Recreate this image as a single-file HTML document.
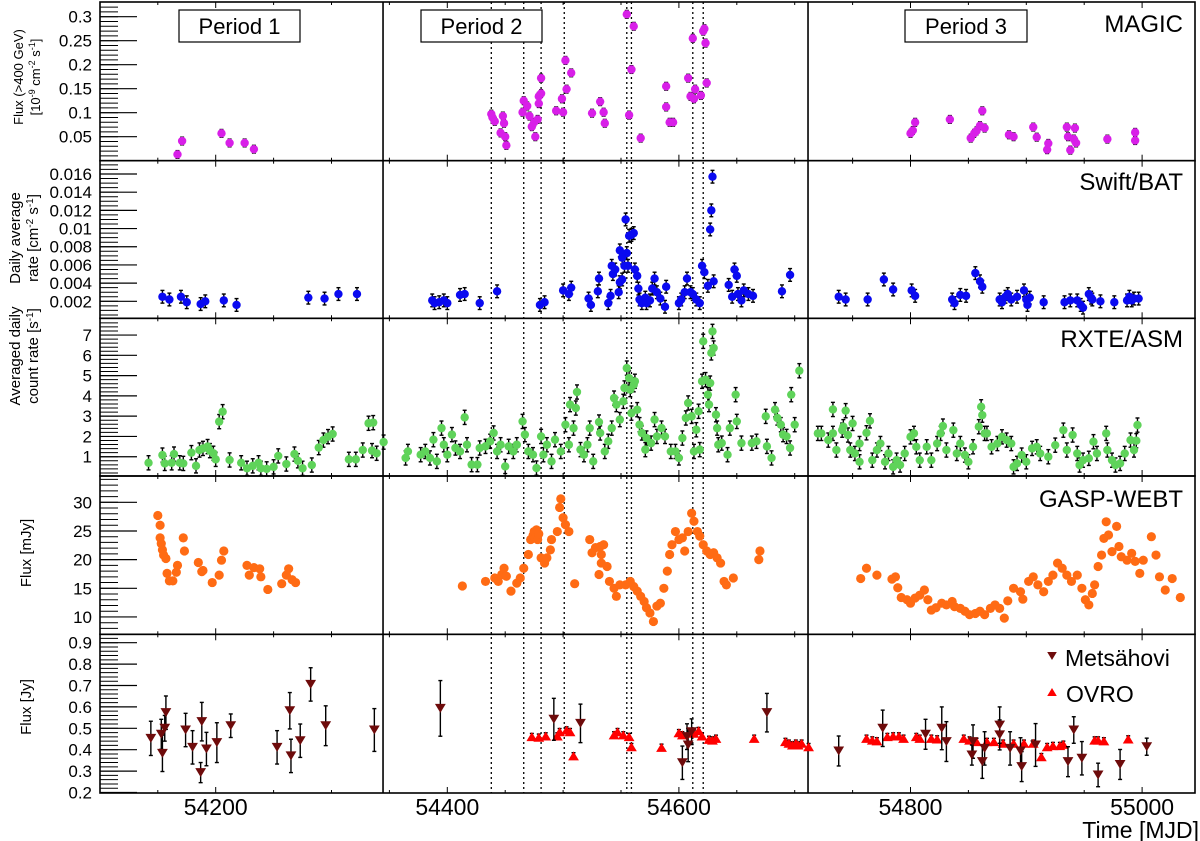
<!DOCTYPE html>
<html><head><meta charset="utf-8"><style>
html,body{margin:0;padding:0;background:#fff}
svg{display:block;font-family:"Liberation Sans",sans-serif}
</style></head><body>
<svg id="c" width="1200" height="841" viewBox="0 0 1200 841"></svg>
<script>
// ===== DATA =====
const magicMjd=[54167,54171,54205,54212,54225,54233,54438,54439,54441,54446,54448,54449,54450,54451,54465,54466,54469,54471,54473,54475,54476,54478,54479,54479,54481,54481,54494,54499,54500,54502,54503,54507,54525,54532,54535,54536,54555,54557,54559,54561,54567,54589,54589,54592,54595,54608,54610,54612,54613,54614,54619,54621,54622,54623,54624,54800,54802,54804,54834,54852,54855,54857,54860,54862,54864,54885,54889,54906,54909,54918,54919,54935,54936,54938,54941,54942,54943,54970,54994,54994];
const magicFlux=[0.013,0.041,0.057,0.037,0.037,0.024,0.097,0.09,0.082,0.058,0.093,0.078,0.05,0.032,0.101,0.125,0.114,0.093,0.071,0.08,0.05,0.086,0.119,0.134,0.14,0.172,0.104,0.129,0.101,0.209,0.149,0.183,0.099,0.123,0.101,0.078,0.305,0.095,0.19,0.28,0.047,0.155,0.112,0.08,0.08,0.172,0.134,0.255,0.129,0.149,0.136,0.27,0.275,0.245,0.162,0.057,0.063,0.08,0.086,0.047,0.057,0.062,0.073,0.104,0.068,0.054,0.05,0.07,0.049,0.023,0.036,0.07,0.05,0.022,0.045,0.068,0.037,0.045,0.059,0.042];
const magicErr=0.008;

const batMjd=[54154,54160,54170,54175,54187,54191,54207,54218,54280,54294,54306,54322,54387,54389,54393,54397,54400,54411,54415,54428,54443,54480,54484,54500,54505,54507,54522,54524,54530,54531,54539,54541,54542,54543,54545,54548,54549,54549,54551,54551,54553,54554,54555,54556,54557,54559,54561,54562,54564,54565,54566,54568,54571,54572,54575,54577,54579,54581,54584,54588,54589,54600,54602,54605,54607,54610,54612,54615,54618,54620,54622,54625,54627,54628,54629,54630,54643,54646,54648,54650,54651,54654,54656,54660,54664,54689,54696,54738,54744,54763,54777,54785,54801,54804,54836,54838,54843,54848,54856,54860,54862,54877,54879,54882,54884,54887,54892,54898,54900,54901,54903,54915,54933,54938,54944,54947,54949,54954,54956,54957,54964,54976,54987,54989,54991,54993,54997];
const batRate=[0.0025,0.0022,0.0025,0.0019,0.0017,0.002,0.0021,0.0016,0.0024,0.0023,0.0028,0.0028,0.0021,0.0018,0.0019,0.0021,0.0018,0.0027,0.0028,0.0018,0.0031,0.0016,0.0019,0.0032,0.0028,0.0035,0.0023,0.0016,0.0031,0.0045,0.0018,0.0026,0.0059,0.005,0.0055,0.003,0.0076,0.0041,0.0068,0.0044,0.0059,0.011,0.0073,0.0059,0.0092,0.0093,0.0095,0.0055,0.0048,0.0034,0.0022,0.0018,0.0024,0.0018,0.0021,0.0034,0.0045,0.003,0.0023,0.0014,0.0036,0.0018,0.0022,0.003,0.0045,0.003,0.0028,0.0022,0.0018,0.0059,0.0052,0.0037,0.0099,0.012,0.0157,0.0042,0.0038,0.0025,0.0055,0.0048,0.0028,0.0021,0.0032,0.0028,0.0026,0.0031,0.0049,0.0025,0.0022,0.0022,0.0044,0.0033,0.0032,0.0026,0.0022,0.0018,0.0027,0.0026,0.0051,0.0042,0.0036,0.0022,0.0019,0.0025,0.0028,0.0022,0.0025,0.0032,0.0022,0.0016,0.0024,0.0019,0.0019,0.0021,0.0021,0.0016,0.0013,0.0028,0.0024,0.0022,0.002,0.0019,0.0021,0.0025,0.0021,0.0023,0.0023];
const batErr=0.0007;

const asmMjd=[54142,54154,54156,54162,54164,54169,54172,54179,54183,54186,54189,54193,54195,54198,54200,54203,54206,54212,54222,54227,54232,54237,54239,54244,54250,54254,54261,54268,54271,54275,54283,54289,54293,54297,54301,54315,54321,54327,54332,54335,54336,54339,
54345,54364,54366,54377,54381,54385,54388,54391,54395,54397,54400,54404,54407,54411,54415,54417,54421,54426,54428,54433,54437,54440,54443,54446,54450,54453,54457,54460,54465,54467,54470,54474,54477,54481,54483,54486,54490,54493,54498,54502,54505,54506,54509,54512,54511,54515,54518,54521,54523,54526,54531,54532,54536,54539,54542,54544,54546,54549,54552,54553,54555,54557,54558,54559,54561,54562,54564,54566,54568,54571,54572,54576,54579,54581,54585,54588,54593,54597,54600,54603,54606,54608,54611,54613,54615,54617,54618,54620,54621,54623,54625,54626,54627,54628,54629,54630,54632,54633,54634,54637,54642,54644,54649,54650,54654,54663,54667,54675,54676,54680,54683,54685,54688,54690,54693,54696,54697,54700,54704,
54720,54723,54729,54733,54733,54736,54741,54744,54742,54746,54750,54748,54752,54756,54756,54762,54765,54767,54771,54774,54778,54781,54785,54788,54791,54795,54800,54803,54805,54808,54814,54818,54823,54826,54828,54831,54837,54840,54843,54847,54850,54854,54859,54861,54862,54864,54866,54870,54875,54879,54883,54887,54889,54892,54896,54900,54905,54909,54912,54919,54925,54932,54935,54940,54944,54946,54949,54954,54958,54961,54969,54970,54974,54977,54981,54985,54990,54993,54995,54996];
const asmRate=[0.7,1.08,0.67,0.7,1.13,0.7,0.67,1.2,0.55,1.33,1.41,1.5,1.3,1.17,0.87,2.73,3.22,0.84,0.7,0.43,0.55,0.7,0.43,0.4,0.5,1.04,0.64,1.13,0.8,0.43,0.59,1.45,1.82,1.99,2.12,0.87,0.87,1.33,2.65,1.3,2.68,1.17,
1.72,0.94,1.26,1.1,1.26,0.94,1.84,0.77,2.41,1.59,1.1,2.09,1.43,1.26,2.94,1.59,0.61,0.61,1.43,1.51,1.76,2.17,1.26,1.59,0.52,1.51,1.26,1.59,2.74,2.09,1.26,1.1,0.44,2.0,1.1,1.59,0.77,1.84,1.26,2.58,1.59,3.57,2.41,4.19,3.4,1.35,1.1,1.59,2.41,0.77,2.71,2.17,1.26,1.76,2.41,3.89,3.57,2.83,3.73,4.39,5.37,4.88,4.31,3.15,4.55,4.72,3.32,2.58,2.17,1.35,1.92,1.67,2.83,2.0,2.41,2.0,1.26,1.26,0.94,1.92,2.91,3.65,2.99,1.26,2.33,3.24,1.35,4.72,6.69,4.8,4.06,3.57,4.63,6.12,7.18,6.36,3.07,2.41,1.59,1.67,1.1,2.41,4.06,2.74,1.67,1.67,1.76,2.99,1.51,0.94,3.32,2.91,2.58,2.09,2.0,1.43,4.06,2.58,5.24,
2.15,2.15,1.82,3.33,2.15,1.33,2.31,3.27,2.48,2.07,2.64,1.33,1.16,0.75,1.65,2.18,2.77,0.83,1.33,1.65,0.75,1.16,0.5,0.83,0.59,1.16,1.98,2.15,1.49,0.83,1.49,0.83,1.65,2.15,2.51,1.33,2.31,1.16,1.65,1.08,0.75,1.49,2.48,3.46,3.05,2.15,2.15,1.49,1.65,1.98,1.82,1.65,0.5,0.67,1.08,0.75,1.41,1.49,1.16,1.0,1.57,2.31,1.33,2.07,1.16,0.59,0.83,0.92,1.74,1.16,2.15,1.33,0.83,0.59,0.67,1.16,1.82,1.33,1.79,2.56];
const asmErr=0.35;

const gaspMjd=[54150,54152,54152,54153,54154,54155,54157,54158,54160,54163,54166,54167,54172,54173,54185,54188,54189,54197,54203,54205,54207,54227,54229,54233,54238,54239,54245,54257,54261,54263,54266,54269,
54413,54433,54441,54444,54447,54449,54451,54455,54460,54463,54466,54470,54472,54474,54475,54476,54477,54478,54479,54481,54484,54486,54489,54490,54495,54497,54498,54500,54502,54505,54510,54523,54525,54528,54532,54533,54535,54533,54531,54538,54540,54544,54546,54549,54554,54558,54561,54564,54567,54570,54572,54575,54578,54581,54584,54587,54590,54592,54594,54597,54600,54603,54605,54608,54611,54613,54616,54618,54621,54624,54627,54630,54633,54636,54639,54641,54647,54669,54670,
54757,54762,54771,54784,54787,54789,54792,54797,54800,54804,54808,54812,54815,54818,54822,54827,54831,54836,54838,54843,54847,54851,54856,54860,54864,54869,54873,54877,54881,54884,54889,54895,54897,54902,54906,54910,54915,54919,54923,54927,54931,54935,54939,54944,54948,54951,54954,54957,54959,54962,54965,54967,54969,54971,54974,54978,54980,54982,54987,54991,54994,54998,55001,55008,55012,55015,55020,55026,55033];
const gaspFlux=[27.7,26.0,23.8,22.8,21.7,20.8,20.2,17.6,16.3,16.3,17.8,19.0,23.8,21.5,19.5,17.9,18.1,16.0,17.3,19.9,21.5,19.0,17.3,18.6,18.4,17.0,14.8,15.8,17.3,18.4,16.5,16.0,
15.4,16.2,16.8,16.2,17.4,18.5,17.1,14.5,15.9,16.8,18.5,20.9,23.5,24.2,24.9,23.8,25.2,23.5,24.5,20.3,19.4,20.3,21.7,23.5,24.9,29.1,30.6,27.3,26.1,24.9,15.8,23.5,21.2,22.1,22.3,20.9,22.6,19.4,17.4,18.8,16.2,15.0,13.6,15.6,15.6,16.2,15.3,14.5,13.6,12.7,11.6,10.7,9.2,11.9,12.4,15.0,18.0,20.9,22.6,24.9,23.5,23.8,21.5,24.9,28.1,26.7,24.9,24.1,22.6,21.5,20.9,21.2,20.3,19.4,16.2,15.6,16.8,20.0,21.5,
16.7,18.5,17.3,16.6,17.0,15.1,13.4,13.0,12.4,13.3,13.8,14.7,13.0,11.2,11.6,12.4,12.1,12.7,11.8,11.5,11.0,10.4,10.6,11.0,10.4,11.5,12.1,11.5,9.8,12.8,15.0,14.4,13.1,16.2,17.0,15.6,14.4,16.2,17.3,19.4,18.5,17.3,16.2,17.3,15.0,13.0,12.1,14.1,15.6,18.8,20.8,23.7,26.6,24.3,21.4,25.8,22.3,20.5,19.9,21.1,19.7,17.6,19.9,24.0,20.8,17.0,14.7,16.7,13.4];

const metsMjd=[54144,54153,54154,54156,54157,54174,54180,54188,54187,54192,54201,54213,54253,54264,54265,54273,54282,54295,54337,54394,54492,54515,54603,54607,54608,54611,54676,54738,54776,54813,54827,54831,54854,54853,54862,54864,54877,54877,54886,54895,54896,54908,54936,54941,54948,54962,54981,55004];
const metsFlux=[0.453,0.472,0.383,0.50,0.573,0.492,0.411,0.531,0.293,0.403,0.433,0.512,0.411,0.582,0.371,0.442,0.705,0.512,0.492,0.593,0.542,0.523,0.339,0.461,0.422,0.484,0.573,0.394,0.50,0.472,0.50,0.438,0.438,0.375,0.344,0.406,0.515,0.469,0.406,0.394,0.321,0.422,0.344,0.492,0.36,0.282,0.331,0.414];
const metsErr=[0.08,0.07,0.085,0.06,0.078,0.078,0.078,0.09,0.047,0.078,0.093,0.055,0.078,0.085,0.078,0.078,0.078,0.093,0.1,0.13,0.098,0.09,0.078,0.06,0.078,0.06,0.09,0.07,0.085,0.07,0.1,0.093,0.078,0.047,0.078,0.078,0.085,0.07,0.078,0.062,0.07,0.1,0.07,0.062,0.078,0.055,0.07,0.04];

const ovroMjd=[54473,54479,54485,54495,54497,54503,54506,54509,54544,54547,54552,54557,54559,54585,54600,54603,54613,54617,54620,54626,54629,54632,54665,54692,54695,54698,54701,54703,54706,54712,54762,54767,54771,54780,54785,54790,54794,54805,54808,54818,54823,54846,54851,54857,54866,54872,54880,54889,54898,54906,54913,54918,54923,54929,54932,54959,54962,54967,54988];
const ovroFlux=[0.461,0.458,0.464,0.464,0.484,0.492,0.484,0.371,0.469,0.484,0.469,0.461,0.414,0.411,0.479,0.469,0.477,0.489,0.464,0.448,0.445,0.453,0.453,0.438,0.43,0.422,0.43,0.422,0.43,0.414,0.453,0.445,0.441,0.461,0.464,0.464,0.453,0.461,0.453,0.453,0.450,0.453,0.445,0.438,0.438,0.438,0.430,0.430,0.430,0.430,0.367,0.414,0.419,0.419,0.425,0.445,0.445,0.441,0.450];
const ovroErr=0.015;

const dottedMjd=[54438,54466,54481,54501,54555,54559,54612,54621];
const periodSepMjd=[54344.5,54711.5];
const xTicks=[54200,54400,54600,54800,55000];

// ===== LAYOUT =====
const NS="http://www.w3.org/2000/svg";
const svg=document.getElementById('c');
const X0=100,X1=1195,TOP=2,BOT=793;
const xs=m=>215.7+(m-54200)*1.158;
function el(tag,attrs,parent){const e=document.createElementNS(NS,tag);for(const k in attrs)e.setAttribute(k,attrs[k]);(parent||svg).appendChild(e);return e;}

const panels=[
 {key:'magic',top:TOP,bot:160.7,y:v=>160.7-v*480,ticks:[0.05,0.1,0.15,0.2,0.25,0.3],minor:0.01,vmin:0,vmax:0.33,fmt:v=>String(+v.toFixed(2))},
 {key:'bat',top:160.7,bot:318.3,y:v=>319.5-v*9095,ticks:[0.002,0.004,0.006,0.008,0.01,0.012,0.014,0.016],minor:0.0005,vmin:0,vmax:0.0174,fmt:v=>String(+v.toFixed(3))},
 {key:'asm',top:318.3,bot:476,y:v=>477-v*20.28,ticks:[1,2,3,4,5,6,7],minor:0.2,vmin:0,vmax:7.8,fmt:v=>String(v)},
 {key:'gasp',top:476,bot:634.3,y:v=>502.3-(v-30)*5.733,ticks:[10,15,20,25,30],minor:1,vmin:7,vmax:34,fmt:v=>String(v)},
 {key:'radio',top:634.3,bot:BOT,y:v=>642.7-(v-0.9)*214,ticks:[0.2,0.3,0.4,0.5,0.6,0.7,0.8,0.9],minor:0.02,vmin:0.2,vmax:0.94,fmt:v=>v.toFixed(1)}
];

const gDot=el('g',{});

dottedMjd.forEach(m=>{const l=el('line',{x1:xs(m),x2:xs(m),y1:TOP,y2:BOT,stroke:'#000','stroke-width':1.3,'stroke-dasharray':'2,3'},gDot);
});

panels.forEach(p=>{
 const g=el('g',{});
 
 el('rect',{x:X0,y:p.top,width:X1-X0,height:p.bot-p.top,fill:'none',stroke:'#000','stroke-width':1.6},g);
 for(let v=Math.ceil(p.vmin/p.minor)*p.minor;v<=p.vmax+1e-9;v+=p.minor){const y=p.y(v);if(y<p.top+1||y>p.bot-1)continue;el('line',{x1:X0,x2:X0+18,y1:y,y2:y,stroke:'#000','stroke-width':1},g);}
 p.ticks.forEach(v=>{const y=p.y(v);el('line',{x1:X0,x2:X0+37,y1:y,y2:y,stroke:'#000','stroke-width':1.2},g);
  const t=el('text',{x:92,y:y+6,'text-anchor':'end','font-size':17,fill:'#000'},g);t.textContent=p.fmt(v);
  });
 for(let m=54150;m<=55050;m+=50){const x=xs(m);if(x<X0||x>X1)continue;const L=(m%200===0)?6:3;
  el('line',{x1:x,x2:x,y1:p.bot,y2:p.bot-L,stroke:'#000','stroke-width':1},g);
  el('line',{x1:x,x2:x,y1:p.top,y2:p.top+L,stroke:'#000','stroke-width':1},g);}
});

periodSepMjd.forEach(m=>{const l=el('line',{x1:xs(m),x2:xs(m),y1:TOP,y2:BOT,stroke:'#000','stroke-width':1.6});
});

[['Period 1',179,300],['Period 2',421,542],['Period 3',905,1027]].forEach((b,i)=>{
 const g=el('g',{});
 el('rect',{x:b[1],y:10,width:b[2]-b[1],height:32,fill:'#fff',stroke:'#000','stroke-width':1.2},g);
 const t=el('text',{x:(b[1]+b[2])/2,y:34,'text-anchor':'middle','font-size':22},g);t.textContent=b[0];});

[['MAGIC',32,'magic-label'],['Swift/BAT',190,'swift-bat-label'],['RXTE/ASM',347,'rxte-asm-label'],['GASP-WEBT',507,'gasp-webt-label']].forEach(a=>{
 const t=el('text',{x:1183,y:a[1],'text-anchor':'end','font-size':24});t.textContent=a[0];
 });

function ytitle(lines,cy,xs0,fs,name){const g=el('g',{});
 lines.forEach((ln,i)=>{const x=xs0[i];const t=el('text',{x:x,y:cy,'text-anchor':'middle','font-size':fs,transform:`rotate(-90 ${x} ${cy})`},g);t.innerHTML=ln;});}
ytitle(['Flux (&gt;400 GeV)','[10<tspan dy="-5" font-size="9">-9</tspan><tspan dy="5"> cm</tspan><tspan dy="-5" font-size="9">-2</tspan><tspan dy="5"> s</tspan><tspan dy="-5" font-size="9">-1</tspan><tspan dy="5">]</tspan>'],77,[23,40],13,'magic-y-title');
ytitle(['Daily average','rate [cm<tspan dy="-5" font-size="10">-2</tspan><tspan dy="5"> s</tspan><tspan dy="-5" font-size="10">-1</tspan><tspan dy="5">]</tspan>'],238,[20,38],15,'bat-y-title');
ytitle(['Averaged daily','count rate [s<tspan dy="-5" font-size="10">-1</tspan><tspan dy="5">]</tspan>'],356,[20,38],15,'asm-y-title');
ytitle(['Flux [mJy]'],553,[31],15,'gasp-y-title');
ytitle(['Flux [Jy]'],707,[31],15,'radio-y-title');

xTicks.forEach(m=>{const t=el('text',{x:xs(m),y:815,'text-anchor':'middle','font-size':23});t.textContent=m;
 });
const xt=el('text',{x:1199,y:838,'text-anchor':'end','font-size':23});xt.textContent='Time [MJD]';


function errbar(g,x,y1,y2){el('line',{x1:x,x2:x,y1:y1,y2:y2,stroke:'#000','stroke-width':1.4},g);
 el('line',{x1:x-2,x2:x+2,y1:y1,y2:y1,stroke:'#000','stroke-width':1.4},g);el('line',{x1:x-2,x2:x+2,y1:y2,y2:y2,stroke:'#000','stroke-width':1.4},g);}
function circles(name,mjd,vals,err,p,color,r){
 const g=el('g',{});
 mjd.forEach((m,i)=>{const x=xs(m),v=vals[i];const e=Array.isArray(err)?err[i]:err;
  if(e){errbar(g,x,Math.max(p.top,p.y(v+e)),Math.min(p.bot,p.y(v-e)));}});
 mjd.forEach((m,i)=>{const c=el('circle',{cx:xs(m),cy:p.y(vals[i]),r:r,fill:color},g);
  });
}
circles('magic-series',magicMjd,magicFlux,magicErr,panels[0],'#d81fe8',4.2);
circles('swift-bat-series',batMjd,batRate,batErr,panels[1],'#0a0af0',4.2);
circles('rxte-asm-series',asmMjd,asmRate,asmErr,panels[2],'#5fd35a',4.2);
circles('gasp-webt-series',gaspMjd,gaspFlux,0,panels[3],'#ff6b14',4.6);

function tri(g,x,y,down,color,s){const h=s;const pts=down?`${x-s*0.6},${y-h/2} ${x+s*0.6},${y-h/2} ${x},${y+h/2}`:`${x-s*0.6},${y+h/2} ${x+s*0.6},${y+h/2} ${x},${y-h/2}`;
 return el('polygon',{points:pts,fill:color},g);}
const pr=panels[4];
const gO=el('g',{});
ovroMjd.forEach((m,i)=>{const x=xs(m),v=ovroFlux[i];errbar(gO,x,pr.y(v+ovroErr),pr.y(v-ovroErr));});
ovroMjd.forEach((m,i)=>{const t=tri(gO,xs(m),pr.y(ovroFlux[i]),false,'#ff0000',9);
 });
const gM=el('g',{});
metsMjd.forEach((m,i)=>{const x=xs(m),v=metsFlux[i];errbar(gM,x,pr.y(v+metsErr[i]),pr.y(v-metsErr[i]));});
metsMjd.forEach((m,i)=>{const t=tri(gM,xs(m),pr.y(metsFlux[i]),true,'#6e0b0b',9);
 });

const lg=el('g',{});
const le1=el('g',{},lg);
tri(le1,1052,656,true,'#6e0b0b',8);
const t1=el('text',{x:1065,y:666,'font-size':23},le1);t1.textContent='Metsähovi';
const le2=el('g',{},lg);
tri(le2,1052,692,false,'#ff0000',8);
const t2=el('text',{x:1066,y:702,'font-size':23},le2);t2.textContent='OVRO';
</script>
</body></html>
